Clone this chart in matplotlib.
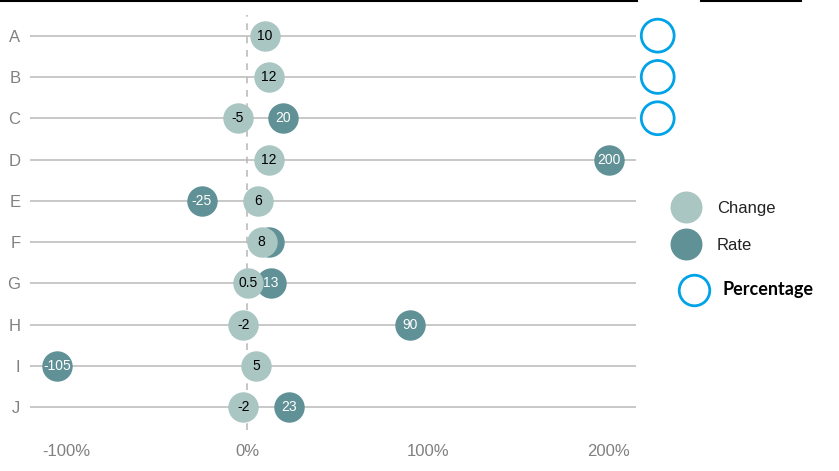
import matplotlib.pyplot as plt
from matplotlib.lines import Line2D

categories = ['A', 'B', 'C', 'D', 'E', 'F', 'G', 'H', 'I', 'J']
change = [10, 12, -5, 12, 6, 8, 0.5, -2, 5, -2]
rate = [None, None, 20, 200, -25, 12, 13, 90, -105, 23]
flagged = ['A', 'B', 'C']
xticks = [-100, 0, 100, 200]

light = '#A9C6C3'
dark = '#5F9196'
blue = '#00A2E8'
grey_txt = '#808080'

plt.rcParams['font.family'] = ['Liberation Sans', 'DejaVu Sans']

fig = plt.figure(figsize=(8.39, 4.71), dpi=100)
ax = fig.add_axes([30 / 839, 41 / 471, 606 / 839, 415 / 471])

ypos = list(range(len(categories)))
ax.set_xlim(-120, 215)
ax.set_ylim(9.55, -0.5)

# row lines and zero line
ax.hlines(ypos, -120, 215, color='#C8C8C8', linewidth=1.4, zorder=1)
ax.axvline(0, color='#BBBBBB', linestyle=(0, (4, 4)), linewidth=1.2, zorder=1)

s = 480
# rate first, change drawn on top (F's rate label ends up hidden, like the original)
for y, r, c in zip(ypos, rate, change):
    if r is None:
        continue
    ax.scatter(r, y, s=s, color=dark, zorder=3, linewidths=0)
    if abs(r - c) > 6:
        ax.text(r, y, f'{r:g}', ha='center', va='center', color='white',
                fontsize=10, zorder=4)
for y, c in zip(ypos, change):
    ax.scatter(c, y, s=s, color=light, zorder=5, linewidths=0)
    ax.text(c, y, f'{c:g}', ha='center', va='center', color='black',
            fontsize=10, zorder=6)

# flagged rows
for cat in flagged:
    y = categories.index(cat)
    ax.scatter(227, y, s=560, facecolors='none', edgecolors=blue,
               linewidths=2, clip_on=False, zorder=3)

ax.set_yticks(ypos)
ax.set_yticklabels(categories)
ax.set_xticks(xticks)
ax.set_xticklabels([f'{t}%' for t in xticks])
ax.tick_params(length=0, labelsize=12, labelcolor=grey_txt)
ax.tick_params(axis='y', pad=7)
ax.tick_params(axis='x', pad=10)
for sp in ax.spines.values():
    sp.set_visible(False)

# legend drawn by hand
fig.add_artist(Line2D([686 / 839], [1 - 207 / 471], marker='o', markersize=22,
                      color=light, linestyle='none'))
fig.text(717 / 839, 1 - 208 / 471, 'Change', fontsize=12, va='center', color='#222222')
fig.add_artist(Line2D([686 / 839], [1 - 244 / 471], marker='o', markersize=22,
                      color=dark, linestyle='none'))
fig.text(717 / 839, 1 - 245 / 471, 'Rate', fontsize=12, va='center', color='#222222')
fig.add_artist(Line2D([694 / 839], [1 - 290 / 471], marker='o', markersize=22,
                      markerfacecolor='none', markeredgecolor=blue, markeredgewidth=2,
                      linestyle='none'))
fig.text(723 / 839, 1 - 290 / 471, 'Percentage', fontsize=13, va='center',
         fontweight='bold', family=['Lato', 'DejaVu Sans'])

# top border fragments
fig.add_artist(Line2D([0, 637 / 839], [0.998, 0.998], color='black', linewidth=1.5))
fig.add_artist(Line2D([701 / 839, 801 / 839], [0.998, 0.998], color='black', linewidth=1.5))

fig.savefig('out.png', dpi=100)
